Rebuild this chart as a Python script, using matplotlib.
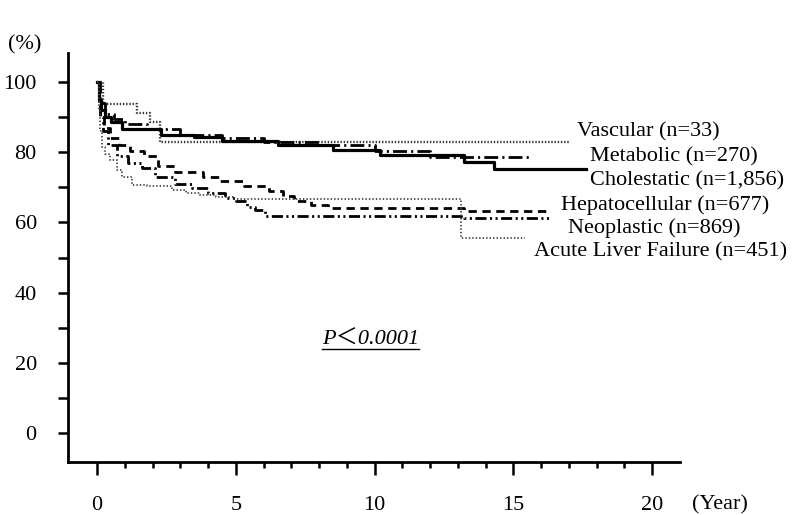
#!/usr/bin/env python3
# Kaplan-Meier style survival curves by disease group.

import matplotlib
matplotlib.use("Agg")
import matplotlib.pyplot as plt
from matplotlib.lines import Line2D

matplotlib.rc("font", family=["Liberation Serif", "Noto Sans CJK JP"], size=16)
matplotlib.rc("lines", scale_dashes=False)

# Data (years, survival %); last value held until *_end
vasc_t = [0, 0.2, 1.44, 1.9, 2.25]
vasc_s = [100, 93.7, 91.2, 88.6, 83.0]
vasc_end = 17.0

metab_t = [0, 0.1, 0.3, 0.6, 1.0, 1.8, 3.0, 4.5, 6.0, 8.0, 10.0, 12.0]
metab_s = [100, 94, 91, 89.5, 88, 86.5, 85, 84, 83, 82, 80.5, 78.8]
metab_end = 15.6

chol_t = [0, 0.05, 0.15, 0.3, 0.5, 0.9, 2.3, 3.5, 4.5, 6.5, 8.5, 10.2, 13.2, 14.3]
chol_s = [100, 95, 92, 90, 88.5, 86.5, 85, 84.3, 83.2, 82.1, 80.6, 79.2, 77.2, 75.2]
chol_end = 17.6

hep_t = [0, 0.05, 0.12, 0.25, 0.45, 0.8, 1.2, 1.7, 2.2, 2.8, 3.8, 4.4, 5.3, 6.2,
         6.7, 7.1, 7.7, 8.3, 13.2]
hep_s = [100, 95, 91, 87, 84, 82, 80.5, 79, 76, 74.5, 73, 71.8, 70.4, 69,
         67.5, 66, 65, 64, 63.3]
hep_end = 16.3

neo_t = [0, 0.05, 0.12, 0.22, 0.4, 0.7, 1.1, 1.6, 2.1, 2.8, 3.4, 4.0, 4.6, 5.0,
         5.4, 5.7, 6.05, 13.2]
neo_s = [100, 94, 90, 86, 82, 79, 77, 75.5, 73, 71, 69.8, 68.5, 67, 66,
         64.5, 63.5, 61.8, 61.3]
neo_end = 16.3

alf_t = [0, 0.05, 0.1, 0.18, 0.3, 0.47, 0.7, 0.9, 1.26, 1.8, 2.7, 3.2, 3.7,
         4.3, 4.9, 13.1]
alf_s = [100, 92, 86, 81.5, 79.5, 77.8, 75, 72.9, 70.7, 70.3, 69.2, 68.4, 67.8,
         67.2, 66.8, 55.5]
alf_end = 15.4

labels = ["Vascular (n=33)", "Metabolic (n=270)", "Cholestatic (n=1,856)",
          "Hepatocellular (n=677)", "Neoplastic (n=869)",
          "Acute Liver Failure (n=451)"]
label_x = [17.3, 17.77, 17.77, 16.72, 16.97, 15.75]
label_y = [85.8, 78.6, 71.8, 65.0, 58.4, 51.6]

x_major = [0, 5, 10, 15, 20]
y_major = [0, 20, 40, 60, 80, 100]

fig = plt.figure(figsize=(7.96, 5.15), dpi=100)
ax = fig.add_axes([68 / 796, 53 / 515, 612 / 796, 409 / 515])


def km(t, s, end, **kw):
    ax.step(t + [end], s + [s[-1]], where="post", **kw)


km(vasc_t, vasc_s, vasc_end, color="#333333", lw=1.7, dashes=(1.0, 1.3))
km(metab_t, metab_s, metab_end, color="black", lw=2.0, dashes=(10, 3, 1.5, 3))
km(chol_t, chol_s, chol_end, color="black", lw=2.3)
km(hep_t, hep_s, hep_end, color="black", lw=2.0, dashes=(6, 4))
km(neo_t, neo_s, neo_end, color="black", lw=2.0,
   dashes=(8, 2.5, 1.5, 2.5, 1.5, 2.5))
km(alf_t, alf_s, alf_end, color="#444444", lw=1.3, dashes=(1.0, 1.5))

for lab, lx, ly in zip(labels, label_x, label_y):
    ax.text(lx, ly, lab, ha="left", va="center", clip_on=False)

pt = ax.text(9.84, 26.5, "P\uff1c0.0001", style="italic", ha="center",
             va="center")

ax.set_xlim(-1.05, 21.0)
ax.set_ylim(-8.26, 108.3)
ax.spines["right"].set_visible(False)
ax.spines["top"].set_visible(False)
ax.spines["left"].set_linewidth(2.0)
ax.spines["bottom"].set_linewidth(2.0)

ax.set_xticks(x_major)
ax.set_xticks(range(0, 21), minor=True)
ax.set_yticks(y_major)
ax.set_yticks(range(0, 101, 10), minor=True)
ax.tick_params(axis="x", which="major", direction="out", length=9.5, width=1.8,
               pad=15)
ax.tick_params(axis="x", which="minor", direction="out", length=4.5, width=1.8)
ax.tick_params(axis="y", which="both", direction="out", length=7.5, width=1.8,
               pad=15)

fig.text(8 / 796, 1 - 45 / 515, "(%)", ha="left", va="center")
fig.text(692 / 796, 1 - 505 / 515, "(Year)", ha="left", va="center")

# underline the P value
fig.canvas.draw()
bb = pt.get_window_extent()
inv = fig.transFigure.inverted()
(x0, y0), (x1, _) = inv.transform([(bb.x0, bb.y0 + 1), (bb.x1, bb.y0)])
fig.add_artist(Line2D([x0, x1], [y0, y0], color="black", lw=1.0))

fig.savefig("out.png", dpi=100)
